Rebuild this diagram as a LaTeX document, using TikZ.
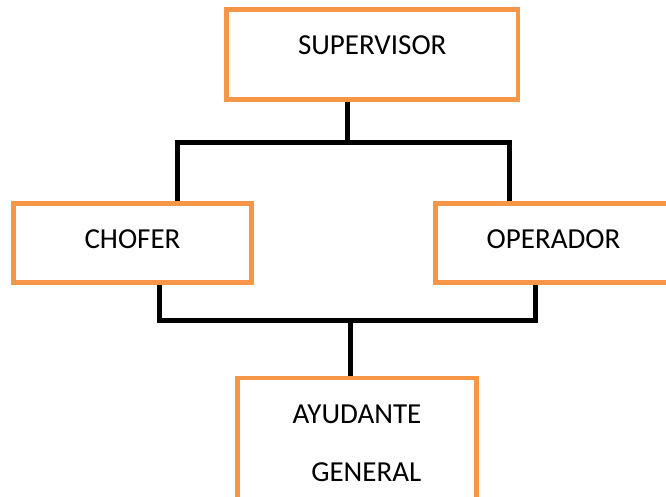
\documentclass[tikz,border=0pt]{standalone}
\usepackage{fontspec}
\setmainfont{Carlito}
\usepackage{xcolor}
\definecolor{Orange}{RGB}{247,150,70}
\definecolor{Black}{RGB}{0,0,0}
\definecolor{White}{RGB}{255,255,255}

\begin{document}
\begin{tikzpicture}[x=1pt, y=-1pt,
		block/.style={draw=Orange, fill=White, line width=4.5pt, inner sep=0pt, font=\fontsize{29}{35}\selectfont},
		bar/.style={draw=Black, line width=5pt}]
		
		\useasboundingbox (0,0) rectangle (666,497);
		
		% Blocks
		\node[block, minimum width=291.5pt, minimum height=90pt, text depth=19pt] (supervisor) at (372.25,54.5) {SUPERVISOR};
		\node[block, minimum width=238pt, minimum height=79pt, text depth=8pt] (chofer) at (132.5,243) {CHOFER};
		\node[block, minimum width=236pt, minimum height=79pt, text depth=8pt] (operador) at (553.5,243) {OPERADOR};
		\node[block, minimum width=239pt, minimum height=130pt, align=right] (ayudante) at (357,443) {AYUDANTE\\[23pt]GENERAL};
		
		% Junctions
		\coordinate (tm) at (347,143);
		\coordinate (tl) at (177.5,143);
		\coordinate (tr) at (509.5,143);
		\coordinate (bm) at (350,320);
		\coordinate (bl) at (159.5,320);
		\coordinate (br) at (535.5,320);
		
		% Connections
		\draw[bar] (supervisor.south -| tm) -- (tm);
		\draw[bar] (chofer.north -| tl) -- (tl) -- (tr) -- (operador.north -| tr);
		\draw[bar] (chofer.south -| bl) -- (bl) -- (br) -- (operador.south -| br);
		\draw[bar] (bm) -- (ayudante.north -| bm);
		
	\end{tikzpicture}
\end{document}
